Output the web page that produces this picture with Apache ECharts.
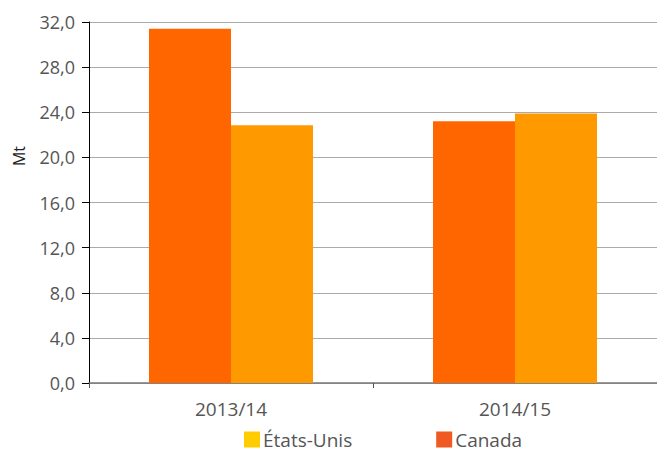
<!DOCTYPE html>
<html>
<head>
<meta charset="utf-8">
<script src="https://cdn.jsdelivr.net/npm/echarts@6/dist/echarts.min.js"></script>
<style>
  html, body { margin: 0; padding: 0; background: #fff; }
  #chart { width: 657px; height: 452px; }
</style>
</head>
<body>
<div id="chart"></div>
<script>
var categories = ['2013/14', '2014/15'];
var canada = [31.4, 23.2];
var usa = [22.85, 23.9];
var yTicks = { min: 0, max: 32, interval: 4 };

var font = '"Open Sans", "Noto Sans", sans-serif';
var textColor = '#555';

var chart = echarts.init(document.getElementById('chart'), null, { renderer: 'svg' });
chart.setOption({
  animation: false,
  grid: { left: 89, right: -3, top: 22, bottom: 69, containLabel: false },
  legend: {
    top: 429,
    left: 244,
    padding: 0,
    itemGap: 84,
    itemWidth: 16,
    itemHeight: 16,
    icon: 'rect',
    textStyle: { color: textColor, fontSize: 19, lineHeight: 21, fontFamily: font, padding: [0, 0, 0, -2] },
    data: [
      { name: 'États-Unis', itemStyle: { color: '#FFCC00' } },
      { name: 'Canada', itemStyle: { color: '#F05A22' } }
    ]
  },
  xAxis: {
    type: 'category',
    data: categories,
    axisLine: { lineStyle: { color: '#777', width: 1.5 } },
    axisTick: { show: true, length: 5, lineStyle: { color: '#555' } },
    axisLabel: { color: textColor, fontSize: 19, fontFamily: font, margin: 16 }
  },
  yAxis: {
    type: 'value',
    min: yTicks.min,
    max: yTicks.max,
    interval: yTicks.interval,
    axisLine: { show: true, lineStyle: { color: '#000', width: 1 } },
    axisTick: { show: true, length: 7, lineStyle: { color: '#000' } },
    axisLabel: {
      color: textColor, fontSize: 18, fontFamily: font, margin: 14,
      formatter: function (v) { return v.toFixed(1).replace('.', ','); }
    },
    splitLine: { lineStyle: { color: '#aaa', width: 1 } }
  },
  graphic: [{
    type: 'text',
    left: 11,
    top: 146,
    rotation: Math.PI / 2,
    style: { text: 'Mt', fill: '#222', fontSize: 16, fontFamily: font }
  }],
  series: [
    {
      name: 'Canada',
      type: 'bar',
      data: canada,
      barWidth: 82,
      barGap: '0%',
      itemStyle: { color: '#FF6600' }
    },
    {
      name: 'États-Unis',
      type: 'bar',
      data: usa,
      barWidth: 82,
      barGap: '0%',
      itemStyle: { color: '#FF9900' }
    }
  ]
});
</script>
</body>
</html>
